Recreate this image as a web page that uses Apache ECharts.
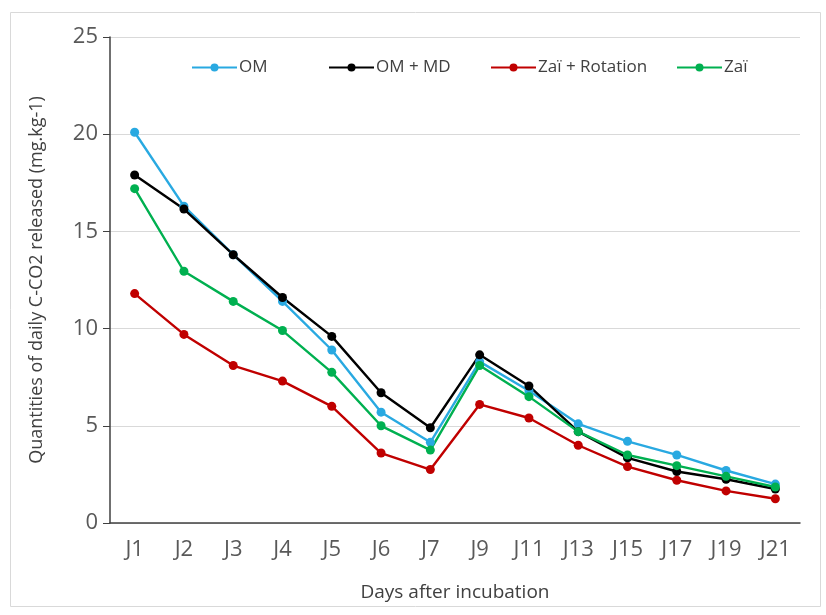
<!DOCTYPE html>
<html><head><meta charset="utf-8">
<script src="https://cdn.jsdelivr.net/npm/echarts@6/dist/echarts.min.js"></script>
<style>html,body{margin:0;padding:0;background:#fff}#c{width:826px;height:615px}</style>
</head><body><div id="c"></div>
<script>
const categories = ['J1','J2','J3','J4','J5','J6','J7','J9','J11','J13','J15','J17','J19','J21'];
const om       = [20.1, 16.3, 13.8, 11.4, 8.9, 5.7, 4.15, 8.3, 6.8, 5.1, 4.2, 3.5, 2.7, 2.0];
const omMd     = [17.9, 16.15, 13.8, 11.6, 9.6, 6.7, 4.9, 8.65, 7.05, 4.7, 3.35, 2.65, 2.25, 1.75];
const zaiRot   = [11.8, 9.7, 8.1, 7.3, 6.0, 3.6, 2.75, 6.1, 5.4, 4.0, 2.9, 2.2, 1.65, 1.25];
const zai      = [17.2, 12.95, 11.4, 9.9, 7.75, 5.0, 3.75, 8.1, 6.5, 4.7, 3.5, 2.95, 2.4, 1.85];
const yTicks = [0, 5, 10, 15, 20, 25];
const seriesNames = ['OM', 'OM + MD', 'Zaï + Rotation', 'Zaï'];
const seriesColors = ['#29a9e1', '#000000', '#c00000', '#00b050'];
const seriesData = [om, omMd, zaiRot, zai];

const font = "'Open Sans', 'Noto Sans', sans-serif";
const chart = echarts.init(document.getElementById('c'), null, {renderer: 'canvas'});
const legendLeft = [186, 323, 485, 671];
chart.setOption({
  animation: false,
  graphic: [{type: 'rect', shape: {x: 10.5, y: 12.5, width: 810, height: 594},
    style: {fill: 'none', stroke: '#d9d9d9', lineWidth: 1}}],
  grid: {left: 110, right: 26, top: 37, bottom: 92},
  legend: seriesNames.map((n, i) => ({
    top: 54, left: legendLeft[i], itemWidth: 45, itemHeight: 10, itemGap: 4,
    textStyle: {fontFamily: font, fontSize: 17, color: '#404040', padding: [0, 0, 0, -3]},
    data: [n]})),
  xAxis: {type: 'category', data: categories, boundaryGap: true,
    name: 'Days after incubation', nameLocation: 'middle', nameGap: 60,
    nameTextStyle: {fontFamily: font, fontSize: 19, color: '#404040'},
    axisLine: {lineStyle: {color: '#404040', width: 1.5}},
    axisTick: {show: false},
    axisLabel: {fontFamily: font, fontSize: 22, color: '#595959', margin: 16}},
  yAxis: {type: 'value', min: yTicks[0], max: yTicks[yTicks.length-1], interval: 5,
    name: 'Quantities of daily C-CO2 released (mg.kg-1)', nameLocation: 'middle', nameGap: 64,
    nameTextStyle: {fontFamily: font, fontSize: 18, color: '#404040'},
    axisLine: {show: true, lineStyle: {color: '#404040', width: 1.5}},
    axisTick: {show: true, length: 7, lineStyle: {color: '#404040'}},
    axisLabel: {fontFamily: font, fontSize: 22, color: '#595959', margin: 12},
    splitLine: {lineStyle: {color: '#d9d9d9', width: 1}}},
  series: seriesNames.map((n, i) => ({
    name: n, type: 'line', data: seriesData[i], symbol: 'circle', symbolSize: 9,
    lineStyle: {color: seriesColors[i], width: 2.4}, itemStyle: {color: seriesColors[i]},
    color: seriesColors[i]}))
});
</script></body></html>
